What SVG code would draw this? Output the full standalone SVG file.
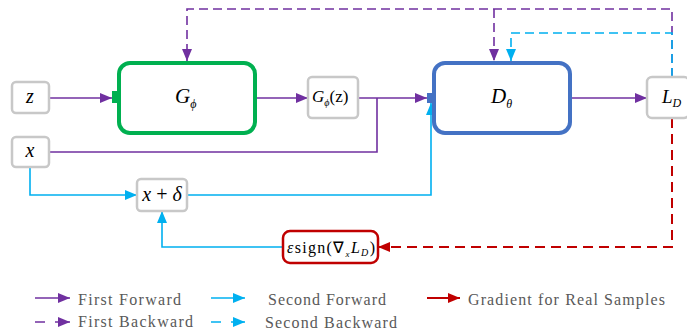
<svg xmlns="http://www.w3.org/2000/svg" width="687" height="331" viewBox="0 0 687 331">
<style>
.gbox{fill:#fff;stroke:#c8c8c8;stroke-width:2.5}
.pu{stroke:#7030a0;stroke-width:1.6;fill:none}
.bl{stroke:#00b0f0;stroke-width:1.6;fill:none}
.rd{stroke:#c00000;stroke-width:2;fill:none}
.dp{stroke-dasharray:9 5}
.dr{stroke-dasharray:10 6}
.m{fill:#000;font-family:'Liberation Serif','Times New Roman',serif}
.i{font-style:italic}
.lg{fill:#595959;font-size:16px;font-family:'Liberation Serif','Times New Roman',serif}
</style>
<defs>
<marker id="ap" markerUnits="userSpaceOnUse" markerWidth="12" markerHeight="10" refX="12" refY="5" orient="auto"><path d="M0,0 L12,5 L0,10 Z" fill="#7030a0"/></marker>
<marker id="ab" markerUnits="userSpaceOnUse" markerWidth="12" markerHeight="10" refX="12" refY="5" orient="auto"><path d="M0,0 L12,5 L0,10 Z" fill="#00b0f0"/></marker>
<marker id="ar" markerUnits="userSpaceOnUse" markerWidth="12" markerHeight="10" refX="12" refY="5" orient="auto"><path d="M0,0 L12,5 L0,10 Z" fill="#c00000"/></marker>
</defs>
<rect width="687" height="331" fill="#fff"/>

<g id="connectors">
<path class="pu" d="M49,98 H112" marker-end="url(#ap)"/>
<path class="pu" d="M256,98 H308" marker-end="url(#ap)"/>
<path class="pu" d="M358,98 H427" marker-end="url(#ap)"/>
<path class="pu" d="M49,152 H377 V98"/>
<path class="pu" d="M571,98 H647" marker-end="url(#ap)"/>
<path class="pu dp" d="M672,77 V9 H187 V61" marker-end="url(#ap)"/>
<path class="pu dp" d="M494,9 V61" marker-end="url(#ap)"/>
<path class="bl dp" d="M672,77 V33 H511 V61" marker-end="url(#ab)"/>
<path class="bl" d="M30,167 V195 H137" marker-end="url(#ab)"/>
<path class="bl" d="M187,195 H431 V103" marker-end="url(#ab)"/>
<path class="bl" d="M282,247 H162 V211" marker-end="url(#ab)"/>
<path class="rd dr" d="M672,118 V247 H378" marker-end="url(#ar)"/>
</g>

<g id="node-z">
<rect class="gbox" x="12" y="82" width="37" height="31" rx="4"/>
<text class="m i" x="30" y="103" font-size="20" text-anchor="middle">z</text>
</g>
<g id="node-x">
<rect class="gbox" x="12" y="137" width="37" height="30" rx="4"/>
<text class="m i" x="30" y="157" font-size="20" text-anchor="middle">x</text>
</g>
<g id="node-G">
<rect x="112" y="91" width="6" height="12" fill="#00b050"/>
<rect x="119" y="63" width="136" height="70" rx="11" fill="#fff" stroke="#00b050" stroke-width="4"/>
<text class="m i" x="175" y="103" font-size="21">G<tspan font-size="12" dy="5">ϕ</tspan></text>
</g>
<g id="node-Gz">
<rect class="gbox" x="308" y="77" width="50" height="41" rx="4"/>
<text class="m" x="312" y="102" font-size="17"><tspan class="i">G</tspan><tspan font-size="10" dy="4" class="i">ϕ</tspan><tspan dy="-4">(z)</tspan></text>
</g>
<g id="node-D">
<rect x="427" y="93" width="6" height="10" fill="#4472c4"/>
<rect x="434" y="63" width="136" height="70" rx="11" fill="#fff" stroke="#4472c4" stroke-width="4"/>
<text class="m i" x="491" y="103" font-size="21">D<tspan font-size="12" dy="5">θ</tspan></text>
</g>
<g id="node-LD">
<rect class="gbox" x="647" y="77" width="42" height="41" rx="5"/>
<text class="m i" x="662" y="103" font-size="19">L<tspan font-size="12" dy="4">D</tspan></text>
</g>
<g id="node-xd">
<rect class="gbox" x="137" y="179" width="50" height="32" rx="4"/>
<text class="m" x="162" y="201" font-size="20" text-anchor="middle"><tspan class="i">x</tspan> + <tspan class="i">δ</tspan></text>
</g>
<g id="node-sign">
<rect x="283" y="231" width="95" height="32" rx="7" fill="#fff" stroke="#c00000" stroke-width="2.5"/>
<text class="m" x="287" y="253" font-size="16" textLength="88"><tspan class="i">ε</tspan>sign(∇<tspan class="i" font-size="9" dy="4">x</tspan><tspan class="i" dy="-4">L</tspan><tspan class="i" font-size="10" dy="3">D</tspan><tspan dy="-3">)</tspan></text>
</g>

<g id="legend">
<path class="pu" d="M35,298 H70" marker-end="url(#ap)"/>
<text class="lg" x="78" y="305" textLength="103">First Forward</text>
<path class="pu" d="M35,322 H45 M55,322 H70" marker-end="url(#ap)"/>
<text class="lg" x="78" y="327" textLength="115">First Backward</text>
<path class="bl" d="M211,298 H245" marker-end="url(#ab)"/>
<text class="lg" x="268" y="305" textLength="118">Second Forward</text>
<path class="bl" d="M211,322 H221 M231,322 H245" marker-end="url(#ab)"/>
<text class="lg" x="265" y="328" textLength="132">Second Backward</text>
<path class="rd" d="M427,298 H460" marker-end="url(#ar)"/>
<text class="lg" x="468" y="305" textLength="197">Gradient for Real Samples</text>
</g>
</svg>
